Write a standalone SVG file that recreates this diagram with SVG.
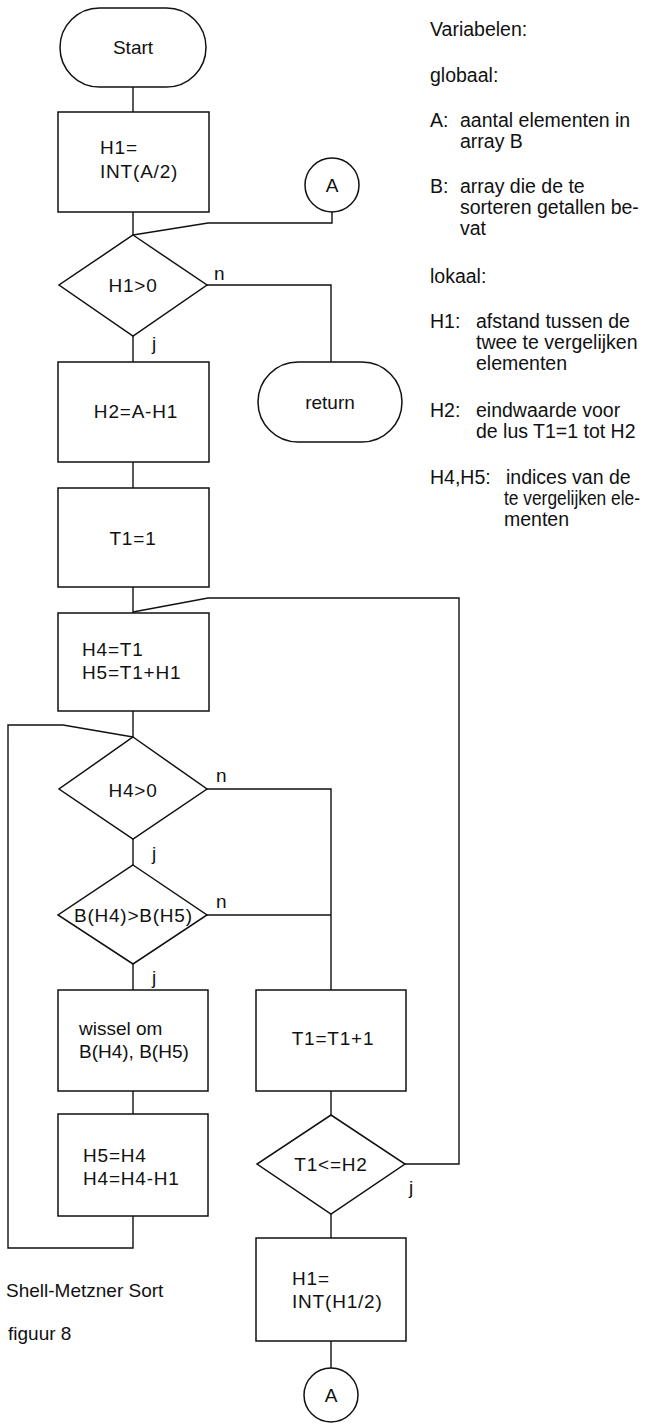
<svg xmlns="http://www.w3.org/2000/svg" width="654" height="1424" viewBox="0 0 654 1424">
  <style>
    .shape { fill: #ffffff; stroke: #111111; stroke-width: 1.5; }
    .conn { fill: none; stroke: #111111; stroke-width: 1.4; stroke-linejoin: miter; }
    text { font-family: "Liberation Sans", Arial, sans-serif; font-size: 19px; fill: #111111; }
    .c { text-anchor: middle; }
    .f { letter-spacing: 0.8px; }
    .leg { font-size: 19.5px; }
  </style>
  <rect x="0" y="0" width="654" height="1424" fill="#ffffff"/>

  <g id="connectors">
    <path class="conn" d="M133,87 V112"/>
    <path class="conn" d="M133,212 V235"/>
    <path class="conn" d="M332,212 V223 H208 L133,235"/>
    <path class="conn" d="M207,285 H331 V362"/>
    <path class="conn" d="M133,336 V362"/>
    <path class="conn" d="M133,462 V488"/>
    <path class="conn" d="M133,587 V613"/>
    <path class="conn" d="M405,1164 H459 V598 H208 L133,612"/>
    <path class="conn" d="M133,711 V737"/>
    <path class="conn" d="M133,1216 V1248 H8 V725 H63 L133,737"/>
    <path class="conn" d="M207,789 H331 V990"/>
    <path class="conn" d="M133,839 V865"/>
    <path class="conn" d="M207,915 H331"/>
    <path class="conn" d="M133,964 V990"/>
    <path class="conn" d="M133,1091 V1114"/>
    <path class="conn" d="M331,1091 V1115"/>
    <path class="conn" d="M331,1214 V1238"/>
    <path class="conn" d="M331,1341 V1368"/>
    <text x="214" y="280">n</text>
    <text x="152" y="350">j</text>
    <text x="216" y="782">n</text>
    <text x="152" y="860">j</text>
    <text x="216" y="908">n</text>
    <text x="152" y="984">j</text>
    <text x="409" y="1194">j</text>
  </g>

  <g id="start">
    <rect class="shape" x="60" y="8" width="146" height="79" rx="39.5" ry="39.5"/>
    <text class="c" x="133" y="54">Start</text>
  </g>

  <g id="h1-init">
    <rect class="shape" x="58" y="112" width="151" height="100"/>
    <text class="f" x="100" y="154">H1=</text>
    <text class="f" x="100" y="178">INT(A/2)</text>
  </g>

  <g id="connector-a-top">
    <circle class="shape" cx="332" cy="185" r="27"/>
    <text class="c" x="332" y="192">A</text>
  </g>

  <g id="dec-h1">
    <polygon class="shape" points="133,235 207,285 133,336 59,285"/>
    <text class="c f" x="133" y="292">H1&gt;0</text>
  </g>

  <g id="return">
    <rect class="shape" x="258" y="362" width="144" height="80" rx="40" ry="40"/>
    <text class="c" x="330" y="409">return</text>
  </g>

  <g id="h2">
    <rect class="shape" x="58" y="362" width="151" height="100"/>
    <text class="c f" x="136" y="418">H2=A-H1</text>
  </g>

  <g id="t1-init">
    <rect class="shape" x="58" y="488" width="151" height="99"/>
    <text class="c f" x="133" y="545">T1=1</text>
  </g>

  <g id="h4h5">
    <rect class="shape" x="58" y="613" width="151" height="98"/>
    <text class="f" x="82" y="656">H4=T1</text>
    <text class="f" x="82" y="679">H5=T1+H1</text>
  </g>

  <g id="dec-h4">
    <polygon class="shape" points="133,737 207,789 133,839 59,789"/>
    <text class="c f" x="133" y="797">H4&gt;0</text>
  </g>

  <g id="dec-b">
    <polygon class="shape" points="133,865 207,915 133,964 58,915"/>
    <text class="c" x="133" y="922" textLength="118" lengthAdjust="spacing">B(H4)&gt;B(H5)</text>
  </g>

  <g id="swap">
    <rect class="shape" x="58" y="990" width="150" height="101"/>
    <text x="79" y="1035">wissel om</text>
    <text x="79" y="1058">B(H4), B(H5)</text>
  </g>

  <g id="h5h4">
    <rect class="shape" x="58" y="1114" width="150" height="102"/>
    <text class="f" x="83" y="1162">H5=H4</text>
    <text class="f" x="83" y="1185">H4=H4-H1</text>
  </g>

  <g id="t1-inc">
    <rect class="shape" x="256" y="990" width="150" height="101"/>
    <text class="c f" x="333" y="1045">T1=T1+1</text>
  </g>

  <g id="dec-t1">
    <polygon class="shape" points="331,1115 405,1164 331,1214 257,1164"/>
    <text class="c f" x="331" y="1171">T1&lt;=H2</text>
  </g>

  <g id="h1-half">
    <rect class="shape" x="256" y="1238" width="150" height="103"/>
    <text class="f" x="292" y="1285">H1=</text>
    <text class="f" x="292" y="1308">INT(H1/2)</text>
  </g>

  <g id="connector-a-bottom">
    <circle class="shape" cx="331" cy="1395" r="27"/>
    <text class="c" x="331" y="1402">A</text>
  </g>

  <g id="legend" class="leg">
    <text class="leg" x="430" y="36">Variabelen:</text>
    <text class="leg" x="430" y="82">globaal:</text>
    <text class="leg" x="430" y="127">A:</text>
    <text class="leg" x="460" y="127">aantal elementen in</text>
    <text class="leg" x="460" y="148">array B</text>
    <text class="leg" x="430" y="193">B:</text>
    <text class="leg" x="460" y="193">array die de te</text>
    <text class="leg" x="460" y="214">sorteren getallen be-</text>
    <text class="leg" x="460" y="235">vat</text>
    <text class="leg" x="430" y="283">lokaal:</text>
    <text class="leg" x="430" y="328">H1:</text>
    <text class="leg" x="476" y="328">afstand tussen de</text>
    <text class="leg" x="476" y="349">twee te vergelijken</text>
    <text class="leg" x="476" y="370">elementen</text>
    <text class="leg" x="430" y="417">H2:</text>
    <text class="leg" x="476" y="417">eindwaarde voor</text>
    <text class="leg" x="476" y="438">de lus T1=1 tot H2</text>
    <text class="leg" x="430" y="484">H4,H5:</text>
    <text class="leg" x="506" y="484">indices van de</text>
    <text class="leg" x="504" y="505" textLength="136" lengthAdjust="spacingAndGlyphs">te vergelijken ele-</text>
    <text class="leg" x="504" y="526">menten</text>
  </g>

  <g id="caption">
    <text x="6" y="1297">Shell-Metzner Sort</text>
    <text x="8" y="1340">figuur 8</text>
  </g>
</svg>
